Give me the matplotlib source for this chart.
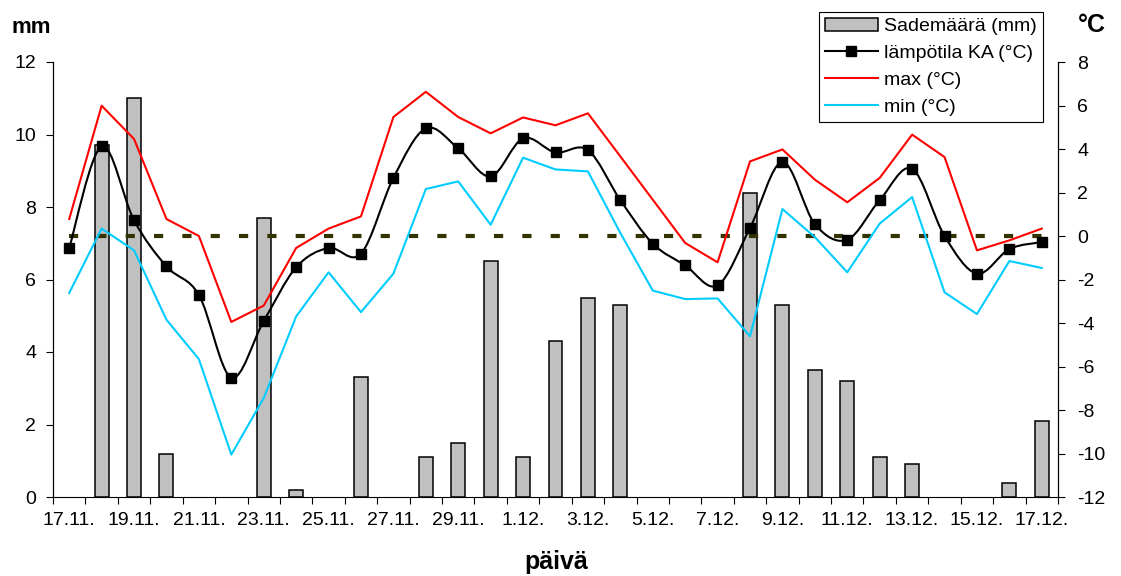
import matplotlib
matplotlib.use("Agg")
import matplotlib.pyplot as plt
from matplotlib.path import Path
from matplotlib.patches import PathPatch, Patch
from matplotlib.lines import Line2D
import numpy as np

plt.rcParams['font.family'] = ['Liberation Sans', 'DejaVu Sans']
plt.rcParams['axes.unicode_minus'] = False

days = ["17.11.", "18.11.", "19.11.", "20.11.", "21.11.", "22.11.", "23.11.", "24.11.",
        "25.11.", "26.11.", "27.11.", "28.11.", "29.11.", "30.11.", "1.12.", "2.12.",
        "3.12.", "4.12.", "5.12.", "6.12.", "7.12.", "8.12.", "9.12.", "10.12.",
        "11.12.", "12.12.", "13.12.", "14.12.", "15.12.", "16.12.", "17.12."]

rain_mm = [0, 9.7, 11.0, 1.2, 0, 0, 7.7, 0.2, 0, 3.3, 0, 1.1, 1.5, 6.5, 1.1, 4.3,
           5.5, 5.3, 0, 0, 0, 8.4, 5.3, 3.5, 3.2, 1.1, 0.9, 0, 0, 0.4, 2.1]

temp_avg = [-0.55, 4.12, 0.72, -1.40, -2.71, -6.51, -3.91, -1.44, -0.55, -0.81, 2.67,
            4.95, 4.03, 2.74, 4.49, 3.84, 3.95, 1.65, -0.35, -1.35, -2.27, 0.37,
            3.40, 0.55, -0.17, 1.65, 3.09, 0.0, -1.73, -0.60, -0.28]

temp_max = [0.78, 5.99, 4.46, 0.78, 0.0, -3.95, -3.2, -0.55, 0.34, 0.9, 5.47,
            6.63, 5.47, 4.72, 5.45, 5.09, 5.64, 3.66, 1.67, -0.32, -1.21, 3.43,
            3.98, 2.59, 1.55, 2.67, 4.66, 3.63, -0.66, -0.2, 0.34]

temp_min = [-2.62, 0.34, -0.66, -3.85, -5.66, -10.05, -7.45, -3.7, -1.67, -3.5, -1.73,
            2.16, 2.51, 0.52, 3.6, 3.06, 2.97, 0.14, -2.51, -2.9, -2.87, -4.61,
            1.24, -0.05, -1.67, 0.57, 1.79, -2.59, -3.59, -1.15, -1.47]

zero_level = 0.0

W, H = 1121, 576
fig = plt.figure(figsize=(W / 100, H / 100), dpi=100)
ax = fig.add_axes([53 / W, 1 - 497 / H, (1058 - 53) / W, (497 - 62) / H])
ax2 = ax.twinx()

x = np.arange(len(days))

# bars
bars = ax.bar(x, rain_mm, width=0.43, color='#C0C0C0', edgecolor='black',
              linewidth=1.1, zorder=2)
for b, v in zip(bars, rain_mm):
    if v == 0:
        b.set_visible(False)
ax.set_ylim(0, 12)
ax.set_yticks(np.arange(0, 13, 2))
ax.set_xlim(-0.5, len(days) - 0.5)

# x ticks: labels at every other category centre, tick marks at boundaries
ax.set_xticks(x[::2])
ax.set_xticklabels(days[::2])
ax.set_xticks(np.arange(-0.5, len(days), 1), minor=True)
ax.tick_params(axis='x', which='major', length=0, pad=11, labelsize=14)
ax.tick_params(axis='x', which='minor', length=5, width=0.8, direction='out')
ax.tick_params(axis='y', length=5, width=0.8, pad=7, labelsize=14)

# temperature lines
ax2.set_ylim(-12, 8)
ax2.set_yticks(np.arange(-12, 9, 2))
ax2.tick_params(axis='y', length=5, width=0.8, pad=9, labelsize=14)

ax2.plot([x[0], x[-1]], [zero_level, zero_level], color='#333300', lw=3,
         linestyle=(0, (2.2, 4.6)), zorder=3)
ax2.plot(x, temp_max, color='#FF0000', lw=1.5, zorder=4)
ax2.plot(x, temp_min, color='#00CCFF', lw=1.5, zorder=4)

# smoothed average line (Catmull-Rom -> cubic Bezier)
xs = x.astype(float)
ys = np.array(temp_avg, dtype=float)
verts = [(xs[0], ys[0])]
codes = [Path.MOVETO]
n = len(xs)
for i in range(n - 1):
    p0 = np.array([xs[max(i - 1, 0)], ys[max(i - 1, 0)]])
    p1 = np.array([xs[i], ys[i]])
    p2 = np.array([xs[i + 1], ys[i + 1]])
    p3 = np.array([xs[min(i + 2, n - 1)], ys[min(i + 2, n - 1)]])
    c1 = p1 + (p2 - p0) / 6.0
    c2 = p2 - (p3 - p1) / 6.0
    verts += [tuple(c1), tuple(c2), tuple(p2)]
    codes += [Path.CURVE4, Path.CURVE4, Path.CURVE4]
ax2.add_patch(PathPatch(Path(verts, codes), facecolor='none', edgecolor='black',
                        lw=1.5, zorder=5, transform=ax2.transData))
ax2.plot(x, temp_avg, linestyle='none', marker='s', markersize=7.5, color='black', zorder=6)

# spines
for a in (ax, ax2):
    a.spines['top'].set_visible(False)
    for s in ('left', 'right', 'bottom'):
        a.spines[s].set_linewidth(0.8)
ax2.spines['bottom'].set_visible(False)

# legend
handles = [Patch(facecolor='#C0C0C0', edgecolor='black', linewidth=1.1),
           Line2D([], [], color='black', lw=1.5, marker='s', markersize=7.5),
           Line2D([], [], color='#FF0000', lw=1.5),
           Line2D([], [], color='#00CCFF', lw=1.5)]
labels = ['Sademäärä (mm)', 'lämpötila KA (°C)', 'max (°C)', 'min (°C)']
leg = fig.legend(handles, labels, loc='upper right',
                 bbox_to_anchor=(1043 / W, 1 - 12 / H), fontsize=14,
                 frameon=True, fancybox=False, framealpha=1, edgecolor='black',
                 handlelength=2.7, handletextpad=0.35, labelspacing=0.47,
                 borderpad=0.3, borderaxespad=0)
leg.get_frame().set_linewidth(0.8)

# axis titles
fig.text(31.5 / W, 1 - 33 / H, 'mm', fontsize=16, fontweight='bold', ha='center', va='baseline')
fig.text(1092 / W, 1 - 31.5 / H, '°C', fontsize=18, fontweight='bold', ha='center', va='baseline')
fig.text(556 / W, 1 - 569 / H, 'päivä', fontsize=18, fontweight='bold', ha='center', va='baseline')

fig.savefig('out.png', dpi=100)
